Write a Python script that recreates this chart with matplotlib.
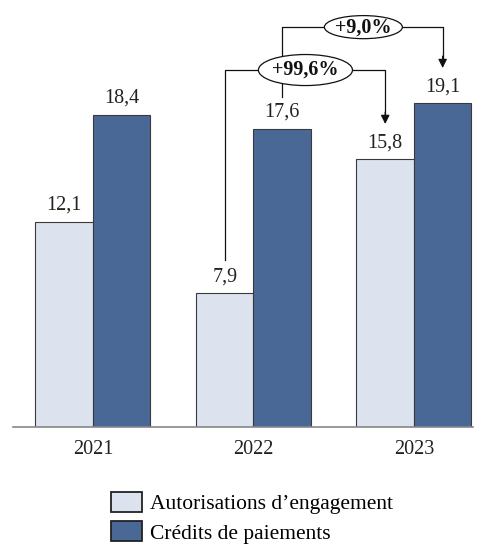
import matplotlib.pyplot as plt
from matplotlib.patches import Ellipse

years = ['2021', '2022', '2023']
ae = [12.1, 7.9, 15.8]
cp = [18.4, 17.6, 19.1]
ae_labels = ['12,1', '7,9', '15,8']
cp_labels = ['18,4', '17,6', '19,1']
series = ["Autorisations d\u2019engagement", 'Crédits de paiements']
changes = ['+99,6%', '+9,0%']

LIGHT = '#dce3ee'
DARK = '#4a6896'
EDGE = '#3a3a3a'
W = 0.358

plt.rcParams['font.family'] = ['Liberation Serif', 'DejaVu Serif']
plt.rcParams['font.size'] = 14.5


def main():
    fig = plt.figure(figsize=(4.83, 5.44), dpi=100)
    ax = fig.add_axes([13 / 483, 117 / 544, 460 / 483, 427 / 544])
    x = list(range(len(years)))
    xa = [i - W / 2 for i in x]
    xc = [i + W / 2 for i in x]
    b1 = ax.bar(xa, ae, W, color=LIGHT, edgecolor=EDGE, linewidth=0.8,
                label=series[0])
    b2 = ax.bar(xc, cp, W, color=DARK, edgecolor=EDGE, linewidth=0.8,
                label=series[1])
    for xs, vals, labs in [(xa, ae, ae_labels), (xc, cp, cp_labels)]:
        for xi, v, t in zip(xs, vals, labs):
            ax.annotate(t, (xi, v), xytext=(0, 5), textcoords='offset points',
                        ha='center', va='bottom', color='#222222')

    ax.set_xlim(-0.498, 2.368)
    ax.set_ylim(0, 25.18)
    ax.set_xticks(x, years)
    ax.tick_params(axis='x', length=0, pad=9, colors='#222222')
    ax.set_yticks([])
    for s in ['top', 'left', 'right']:
        ax.spines[s].set_visible(False)
    ax.spines['bottom'].set_color('#888888')
    ax.spines['bottom'].set_linewidth(1.2)

    # +99,6% : AE 2022 -> AE 2023
    draw_bracket(ax, xa[1], ae[1] + 1.95, xa[2], ae[2] + 2.07, 21.05)
    draw_label(ax, 1.324, 21.05, 0.586, 1.83, changes[0])
    # +9,0% : CP 2022 -> CP 2023
    draw_bracket(ax, xc[1], cp[1] + 1.86, xc[2], cp[2] + 2.07, 23.58)
    draw_label(ax, 1.685, 23.58, 0.486, 1.36, changes[1])

    fig.legend(handles=[b1, b2], loc='upper left',
               bbox_to_anchor=(111 / 483, 1 - 492 / 544),
               frameon=False, borderpad=0, borderaxespad=0, fontsize=15.5,
               handlelength=1.45, handleheight=1.06, handletextpad=0.38,
               labelspacing=0.32)
    for h in fig.legends[0].legend_handles:
        h.set_edgecolor('#222222')
        h.set_linewidth(1.3)

    fig.savefig('out.png', dpi=100)
    plt.close(fig)


def draw_bracket(ax, x0, y0, x1, y1, ytop):
    ax.plot([x0, x0, x1, x1], [y0, ytop, ytop, y1 + 0.5], color='#111111',
            lw=0.9, zorder=3, clip_on=False)
    ax.annotate('', xy=(x1, y1), xytext=(x1, y1 + 0.7),
                arrowprops=dict(arrowstyle='-|>', color='#111111', lw=0.9,
                                mutation_scale=13, shrinkA=0, shrinkB=0),
                zorder=3)


def draw_label(ax, xc, yc, w, h, text):
    ax.add_patch(Ellipse((xc, yc), w, h, facecolor='white',
                         edgecolor='#111111', lw=0.9, zorder=4, clip_on=False))
    ax.text(xc, yc, text, ha='center', va='center', fontweight='bold',
            zorder=5, color='#111111')


if __name__ == '__main__':
    main()
